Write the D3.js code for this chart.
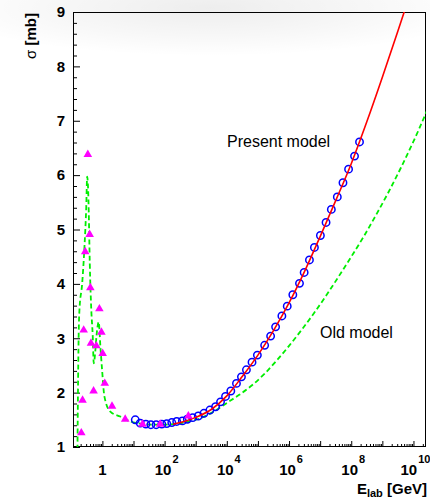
<!DOCTYPE html>
<html><head><meta charset="utf-8">
<script src="https://cdn.jsdelivr.net/npm/d3@7"></script>
<style>
body{margin:0;background:#fff}
svg{display:block}
text{font-family:"Liberation Sans",Arial,Helvetica,sans-serif}
</style>
</head><body>
<svg id="c" width="430" height="500"></svg>
<script>
// ---- data ----
const xDomain = [0.1135, 2.53e10];
const yDomain = [1, 9];
const yTicks = [1, 2, 3, 4, 5, 6, 7, 8, 9];
const xDecades = [1, 1e1, 1e2, 1e3, 1e4, 1e5, 1e6, 1e7, 1e8, 1e9, 1e10];
const xLabelValues = [1, 1e2, 1e4, 1e6, 1e8, 1e10];
const xLabelBase = ["1", "10", "10", "10", "10", "10"];
const xLabelExp = ["", "2", "4", "6", "8", "10"];

// measured data (magenta triangles)
const triE = [0.34, 0.39, 0.28, 0.41, 0.80, 0.25, 0.93, 0.43, 0.64, 1.02, 1.19, 0.52, 0.23, 2.04, 5.4, 19.5, 0.21, 72, 580];
const triSigma = [6.38, 4.91, 4.59, 3.93, 3.54, 3.15, 3.11, 2.91, 2.86, 2.72, 2.17, 2.03, 1.86, 1.75, 1.51, 1.42, 1.26, 1.42, 1.57];

// blue open circles
const circE = [11.4, 16.4, 25.0, 36.1, 53.5, 81.3, 117, 170, 245, 372, 537, 798, 1208, 1837, 2858, 4345, 6281, 9078,
  1.343e4, 2.042e4, 2.951e4, 4.266e4, 6.457e4, 9.594e4, 1.644e5, 2.559e5, 3.698e5, 5.888e5, 8.75e5, 1.324e6, 2.168e6,
  3.062e6, 4.529e6, 6.546e6, 1.019e7, 1.549e7, 2.291e7, 3.565e7, 5.42e7, 8.2e7, 1.276e8, 1.845e8];
const circSigma = [1.50, 1.44, 1.42, 1.41, 1.41, 1.42, 1.43, 1.45, 1.47, 1.48, 1.51, 1.54, 1.57, 1.62, 1.68, 1.74, 1.83, 1.93,
  2.03, 2.17, 2.29, 2.42, 2.56, 2.69, 2.87, 3.04, 3.21, 3.41, 3.59, 3.80, 4.01,
  4.21, 4.44, 4.67, 4.89, 5.13, 5.37, 5.60, 5.86, 6.11, 6.35, 6.61];

// present model (red solid)
const presentE = [190.5, 398, 1e3, 3162, 1e4, 3.162e4, 1e5, 3.162e5, 1e6, 3.162e6, 1e7, 3.162e7, 1e8, 3.162e8, 1e9, 3.162e9, 6.31e9];
const presentSigma = [1.42, 1.465, 1.545, 1.69, 1.94, 2.30, 2.69, 3.14, 3.65, 4.23, 4.87, 5.53, 6.21, 6.98, 7.80, 8.65, 9.17];

// old model (green dashed)
const oldE = [0.158, 0.164, 0.172, 0.182, 0.224, 0.265, 0.302, 0.324, 0.347, 0.365, 0.393, 0.435, 0.490, 0.527, 0.589, 0.643,
  0.762, 0.863, 0.977, 1.16, 1.80, 3.77, 7.87, 16.4, 39.8, 100, 251, 631, 1585, 3981, 1e4, 2.51e4, 6.31e4, 1.585e5, 3.98e5,
  1e6, 2.51e6, 6.31e6, 1.585e7, 3.98e7, 1e8, 2.51e8, 6.31e8, 1.585e9, 3.98e9, 1e10, 2.51e10, 3.16e10];
const oldSigma = [0.95, 2.0, 3.0, 3.5, 4.01, 4.68, 5.4, 5.97, 5.75, 5.30, 4.38, 3.58, 3.03, 2.54, 2.75, 3.03,
  3.30, 2.84, 2.42, 1.93, 1.65, 1.56, 1.47, 1.43, 1.41, 1.41, 1.43, 1.47, 1.54, 1.66, 1.81, 1.96, 2.13, 2.34, 2.59,
  2.86, 3.15, 3.46, 3.79, 4.14, 4.50, 4.87, 5.27, 5.69, 6.14, 6.62, 7.14, 7.28];

const modelLabels = ["Present model", "Old model"];

// ---- drawing ----
const L = 73, R = 426, T = 12, B = 447;
const svg = d3.select("#c");
const x = d3.scaleLog().domain(xDomain).range([L, R]);
const y = d3.scaleLinear().domain(yDomain).range([B, T]);

// faint gray smudge at top
const defs = svg.append("defs");
const rg = defs.append("radialGradient").attr("id", "smudge");
rg.append("stop").attr("offset", "0%").attr("stop-color", "#000").attr("stop-opacity", 0.07);
rg.append("stop").attr("offset", "60%").attr("stop-color", "#000").attr("stop-opacity", 0.03);
rg.append("stop").attr("offset", "100%").attr("stop-color", "#000").attr("stop-opacity", 0);
svg.append("ellipse").attr("cx", 210).attr("cy", 8).attr("rx", 270).attr("ry", 48).attr("fill", "url(#smudge)");

defs.append("clipPath").attr("id", "frame").append("rect")
  .attr("x", L).attr("y", T).attr("width", R - L).attr("height", B - T);

// x axis ticks (inward)
const minor = [];
for (let k = -1; k <= 10; k++) for (let m = 2; m <= 9; m++) {
  const v = m * Math.pow(10, k);
  if (v > xDomain[0] && v < xDomain[1]) minor.push(v);
}
const gxMinor = svg.append("g").attr("transform", `translate(0,${B})`)
  .call(d3.axisBottom(x).tickValues(minor).tickSize(-3).tickSizeOuter(0).tickFormat(""));
const gx = svg.append("g").attr("transform", `translate(0,${B})`)
  .call(d3.axisBottom(x).tickValues(xDecades).tickSize(-6).tickSizeOuter(0).tickFormat(""));
[gx, gxMinor].forEach(g => { g.select(".domain").remove(); g.selectAll("line").attr("stroke", "#000"); });

// x labels
const xl = svg.append("g");
xLabelValues.forEach((v, i) => {
  const t = xl.append("text").attr("x", x(v) + (xLabelExp[i] ? 2 : 0)).attr("y", 475)
    .attr("text-anchor", "middle").attr("font-weight", "bold").attr("font-size", 15).attr("fill", "#000");
  t.append("tspan").text(xLabelBase[i]);
  if (xLabelExp[i]) t.append("tspan").attr("dx", 1).attr("dy", -12).attr("font-size", 11).text(xLabelExp[i]);
});

// y axis
const yMinor = d3.range(1, 9.001, 0.2).filter(v => Math.abs(v - Math.round(v)) > 1e-6);
const gyMinor = svg.append("g").attr("transform", `translate(${L},0)`)
  .call(d3.axisLeft(y).tickValues(yMinor).tickSize(-4).tickSizeOuter(0).tickFormat(""));
const gy = svg.append("g").attr("transform", `translate(${L},0)`)
  .call(d3.axisLeft(y).tickValues(yTicks).tickSize(-7).tickSizeOuter(0).tickPadding(8).tickFormat(d3.format("d")));
[gy, gyMinor].forEach(g => { g.select(".domain").remove(); g.selectAll("line").attr("stroke", "#000"); });
gy.selectAll("text").attr("font-size", 15).attr("font-weight", "bold")
  .attr("font-family", "'Liberation Sans',Arial,Helvetica,sans-serif").attr("fill", "#000");

// frame
svg.append("rect").attr("x", L + 0.5).attr("y", T + 0.5).attr("width", R - L - 1).attr("height", B - T - 1)
  .attr("fill", "none").attr("stroke", "#000").attr("stroke-width", 1);

// curves
const plot = svg.append("g").attr("clip-path", "url(#frame)");
const line = d3.line().x(d => x(d[0])).y(d => y(d[1])).curve(d3.curveMonotoneX);

plot.append("path").datum(oldE.map((e, i) => [e, oldSigma[i]]))
  .attr("d", line).attr("fill", "none").attr("stroke", "#00ee00").attr("stroke-width", 1.8)
  .attr("stroke-dasharray", "5,3");

plot.append("g").selectAll("circle").data(circE.map((e, i) => [e, circSigma[i]])).join("circle")
  .attr("cx", d => x(d[0])).attr("cy", d => y(d[1])).attr("r", 3.7)
  .attr("fill", "none").attr("stroke", "#0000ff").attr("stroke-width", 1.5);

plot.append("path").datum(presentE.map((e, i) => [e, presentSigma[i]]))
  .attr("d", line).attr("fill", "none").attr("stroke", "#ff0000").attr("stroke-width", 1.6);

const tri = d3.symbol().type(d3.symbolTriangle).size(32);
plot.append("g").selectAll("path").data(triE.map((e, i) => [e, triSigma[i]])).join("path")
  .attr("transform", d => `translate(${x(d[0])},${y(d[1])})`).attr("d", tri).attr("fill", "#ff00ff");

// annotations
svg.append("text").attr("x", 227).attr("y", 147).attr("font-size", 16).attr("fill", "#000").text(modelLabels[0]);
svg.append("text").attr("x", 320).attr("y", 338).attr("font-size", 16).attr("fill", "#000").text(modelLabels[1]);

// axis titles
const yt = svg.append("text").attr("transform", "translate(35.5,13) rotate(-90)")
  .attr("text-anchor", "end").attr("font-size", 15).attr("fill", "#000");
yt.append("tspan").text("σ ");
yt.append("tspan").attr("font-weight", "bold").text("[mb]");

const xt = svg.append("text").attr("x", 427).attr("y", 494).attr("text-anchor", "end")
  .attr("font-size", 15).attr("font-weight", "bold").attr("fill", "#000");
xt.append("tspan").text("E");
xt.append("tspan").attr("font-size", 11).attr("dy", 3).text("lab");
xt.append("tspan").attr("dy", -3).text(" [GeV]");
</script>
</body></html>
